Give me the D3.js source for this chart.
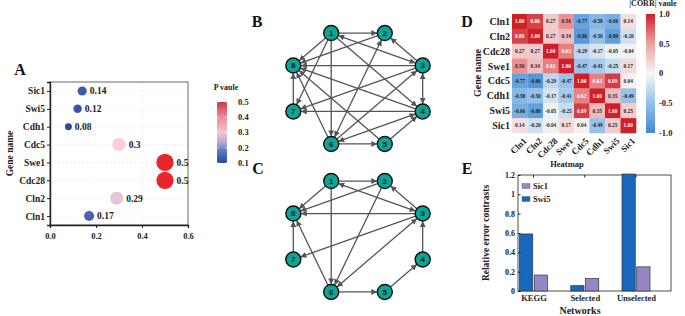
<!DOCTYPE html>
<html>
<head>
<meta charset="utf-8">
<script src="https://cdn.jsdelivr.net/npm/d3@7"></script>
<style>
  body { margin: 0; background: #fff; }
  svg text { font-family: "Liberation Serif", "Times New Roman", serif; font-weight: bold; fill: #222; }
  .node text { font-family: "Liberation Sans", Arial, sans-serif; }
</style>
</head>
<body>
<svg id="fig" width="685" height="316"></svg>
<script>
// ---- panel A data
const genesA = ["Sic1", "Swi5", "Cdh1", "Cdc5", "Swe1", "Cdc28", "Cln2", "Cln1"];
const pValues = [0.14, 0.12, 0.08, 0.3, 0.5, 0.5, 0.29, 0.17];
const pLabels = ["0.14", "0.12", "0.08", "0.3", "0.5", "0.5", "0.29", "0.17"];
const xTicksA = [0, 0.2, 0.4, 0.6];
const pLegendTicks = [0.1, 0.2, 0.3, 0.4, 0.5];

// ---- networks B and C (edges as [from, to, both directions?])
const nodes = [1, 2, 3, 4, 5, 6, 7, 8];
const edgesB = [[1,2,0],[1,8,0],[1,7,0],[1,6,0],[1,4,0],[3,1,1],[2,8,0],[3,2,0],[6,2,1],
  [3,8,0],[3,4,1],[3,7,0],[6,3,0],[4,8,0],[4,7,0],[6,4,1],[5,8,0],[6,8,0],[7,8,0],[6,5,0],[5,4,0]];
const edgesC = [[1,2,0],[1,8,0],[1,6,0],[3,1,1],[2,8,0],[3,8,0],[3,2,0],[2,6,0],[3,7,0],
  [6,3,1],[7,8,0],[6,8,0],[6,5,0],[5,4,0],[4,3,0]];

// ---- panel D data
const genesD = ["Cln1", "Cln2", "Cdc28", "Swe1", "Cdc5", "Cdh1", "Swi5", "Sic1"];
const corr = [
  [1.00, 0.86, 0.27, 0.56, -0.77, -0.58, -0.66, 0.14],
  [0.86, 1.00, 0.27, 0.34, -0.86, -0.50, -0.80, -0.20],
  [0.27, 0.27, 1.00, 0.63, -0.29, -0.17, -0.05, -0.04],
  [0.56, 0.34, 0.63, 1.00, -0.47, -0.41, -0.25, 0.17],
  [-0.77, -0.86, -0.29, -0.47, 1.00, 0.62, 0.89, 0.04],
  [-0.58, -0.50, -0.17, -0.41, 0.62, 1.00, 0.35, -0.49],
  [-0.66, -0.80, -0.05, -0.25, 0.89, 0.35, 1.00, 0.25],
  [0.14, -0.20, -0.04, 0.17, 0.04, -0.49, 0.25, 1.00]
];
const corrTicks = [1.0, 0.5, 0, -0.5, -1.0];

// ---- panel E data
const networks = ["KEGG", "Selected", "Unselected"];
const seriesE = ["Swi5", "Sic1"];
const swi5Err = [0.59, 0.055, 1.21];
const sic1Err = [0.165, 0.13, 0.25];
const yTicksE = [0, 0.2, 0.4, 0.6, 0.8, 1, 1.2];

const svg = d3.select("#fig");

// panel letters
const letters = [["A", 20, 75], ["B", 257, 27], ["C", 258, 174], ["D", 467, 27], ["E", 467, 174]];
svg.selectAll("text.letter").data(letters).join("text")
  .attr("class", "letter").attr("x", d => d[1]).attr("y", d => d[2])
  .attr("text-anchor", "middle").style("font-size", "16px").style("fill", "#111")
  .text(d => d[0]);

// ================= A
(function () {
  const g = svg.append("g");
  const L = 50, R = 188, T = 82, B = 225;
  const x = d3.scaleLinear().domain([0, 0.6]).range([L, R]);
  const y = d3.scalePoint().domain(genesA).range([T, B]).padding(0.5);
  const color = d3.scaleLinear().domain([0.08, 0.17, 0.25, 0.29, 0.3, 0.4, 0.5])
    .range(["#2a489c", "#4a63b3", "#a9a8d2", "#e4c6d8", "#f8cfd6", "#ec8c98", "#e8262c"]);
  const r = d3.scaleSqrt().domain([0, 0.5]).range([0, 8.6]);

  g.selectAll("line.gy").data(genesA).join("line")
    .attr("x1", L).attr("x2", R).attr("y1", d => y(d)).attr("y2", d => y(d))
    .attr("stroke", "#e4e4e4").attr("stroke-dasharray", "2,2").attr("stroke-width", 0.6);
  g.selectAll("line.gx").data([0.2, 0.4]).join("line")
    .attr("y1", T).attr("y2", B).attr("x1", d => x(d)).attr("x2", d => x(d))
    .attr("stroke", "#e4e4e4").attr("stroke-dasharray", "2,2").attr("stroke-width", 0.6);

  g.append("rect").attr("x", L).attr("y", T).attr("width", R - L).attr("height", B - T)
    .attr("fill", "none").attr("stroke", "#444").attr("stroke-width", 0.8);

  const xa = g.append("g").attr("transform", `translate(0,${B})`)
    .call(d3.axisBottom(x).tickValues(xTicksA).tickFormat(d3.format(".1f")).tickSize(3));
  const ya = g.append("g").attr("transform", `translate(${L},0)`)
    .call(d3.axisLeft(y).tickSize(3));
  [xa, ya].forEach(a => { a.select(".domain").attr("stroke", "#222").attr("stroke-width", 1.4); a.selectAll("line").attr("stroke", "#222"); });
  xa.selectAll("text").style("font-size", "8.5px").style("font-family", "Liberation Serif").attr("dy", "0.9em");
  ya.selectAll("text").style("font-size", "9.5px").style("font-family", "Liberation Serif").attr("x", -5);

  g.append("text").attr("transform", `translate(13,${(T + B) / 2}) rotate(-90)`)
    .attr("text-anchor", "middle").style("font-size", "9.5px").text("Gene name");

  g.selectAll("circle").data(genesA).join("circle")
    .attr("cx", (d, i) => x(pValues[i])).attr("cy", d => y(d))
    .attr("r", (d, i) => r(pValues[i])).attr("fill", (d, i) => color(pValues[i]));
  g.selectAll("text.val").data(genesA).join("text").attr("class", "val")
    .attr("x", (d, i) => x(pValues[i]) + r(pValues[i]) + 3).attr("y", d => y(d)).attr("dy", "0.35em")
    .style("font-size", "9.5px").text((d, i) => pLabels[i]);

  // P legend
  const lg = d3.scaleLinear().domain([0.1, 0.5]).range([163, 102]);
  const defs = svg.append("defs");
  const grad = defs.append("linearGradient").attr("id", "pgrad").attr("x1", 0).attr("x2", 0).attr("y1", 1).attr("y2", 0);
  [[0, "#2a489c"], [0.2, "#5d7bc2"], [0.35, "#b8aed6"], [0.5, "#f6c3cf"], [0.75, "#eb8d9b"], [1, "#cb3a44"]]
    .forEach(s => grad.append("stop").attr("offset", s[0]).attr("stop-color", s[1]));
  g.append("rect").attr("x", 217).attr("y", lg(0.5)).attr("width", 10).attr("height", lg(0.1) - lg(0.5))
    .attr("fill", "url(#pgrad)");
  g.selectAll("line.pt").data(pLegendTicks).join("line").attr("class", "pt")
    .attr("x1", 217).attr("x2", 219).attr("y1", d => lg(d)).attr("y2", d => lg(d)).attr("stroke", "#fff").attr("stroke-width", 0.6);
  g.selectAll("line.pt2").data(pLegendTicks).join("line").attr("class", "pt2")
    .attr("x1", 225).attr("x2", 227).attr("y1", d => lg(d)).attr("y2", d => lg(d)).attr("stroke", "#fff").attr("stroke-width", 0.6);
  g.selectAll("text.pl").data(pLegendTicks).join("text").attr("class", "pl")
    .attr("x", 238).attr("y", d => lg(d)).attr("dy", "0.35em").style("font-size", "8.5px").text(d => d.toFixed(1));
  g.append("text").attr("x", 226).attr("y", 90).attr("text-anchor", "middle").style("font-size", "8px").text("P vaule");
})();

// ================= B, C networks
const defs2 = svg.append("defs");
defs2.append("marker").attr("id", "arr").attr("viewBox", "0 0 10 10").attr("refX", 10).attr("refY", 5)
  .attr("markerWidth", 6).attr("markerHeight", 6).attr("orient", "auto-start-reverse").attr("markerUnits", "userSpaceOnUse")
  .append("path").attr("d", "M0,0L10,5L0,10Z").attr("fill", "#555");

function drawNet(edges, cy) {
  const g = svg.append("g");
  const ang = d3.scaleLinear().domain([1, 8]).range([-112.5, 202.5]);
  const sx = d3.scaleLinear().domain([-1, 1]).range([358 - 70, 358 + 70]);
  const sy = d3.scaleLinear().domain([-1, 1]).range([cy - 60, cy + 60]);
  const pos = new Map(nodes.map(n => {
    const a = ang(n) * Math.PI / 180;
    return [n, [sx(Math.cos(a)), sy(Math.sin(a))]];
  }));
  const rad = 7.5;
  g.selectAll("line").data(edges).join("line")
    .each(function (e) {
      const p = pos.get(e[0]), q = pos.get(e[1]);
      const dx = q[0] - p[0], dy = q[1] - p[1], len = Math.hypot(dx, dy);
      const ux = dx / len, uy = dy / len;
      d3.select(this).attr("x1", p[0] + ux * rad).attr("y1", p[1] + uy * rad)
        .attr("x2", q[0] - ux * rad).attr("y2", q[1] - uy * rad);
    })
    .attr("stroke", "#555").attr("stroke-width", 1.3)
    .attr("marker-end", "url(#arr)")
    .attr("marker-start", e => e[2] ? "url(#arr)" : null);
  const ng = g.selectAll("g.node").data(nodes).join("g").attr("class", "node")
    .attr("transform", n => `translate(${pos.get(n)[0]},${pos.get(n)[1]})`);
  ng.append("circle").attr("r", rad).attr("fill", "#0ba596").attr("stroke", "#111").attr("stroke-width", 1.4);
  ng.append("text").attr("text-anchor", "middle").attr("dy", "0.36em").style("font-size", "8px").style("fill", "#111")
    .style("font-family", "Liberation Sans").text(n => n);
}
drawNet(edgesB, 88.5);
drawNet(edgesC, 236.5);

// ================= D heatmap
(function () {
  const g = svg.append("g");
  const x = d3.scaleBand().domain(genesD).range([512, 636]);
  const y = d3.scaleBand().domain(genesD).range([14, 133]);
  const color = d3.scaleLinear().domain([-1, -0.5, 0, 0.5, 1])
    .range(["#3f8ad2", "#95c0e7", "#f7f7f7", "#eca1a4", "#d01f27"]);
  const cells = [];
  corr.forEach((row, i) => row.forEach((v, j) => cells.push({ r: genesD[i], c: genesD[j], v })));
  g.selectAll("rect").data(cells).join("rect")
    .attr("x", d => x(d.c)).attr("y", d => y(d.r)).attr("width", x.bandwidth() + 0.3).attr("height", y.bandwidth() + 0.3)
    .attr("fill", d => color(d.v));
  g.selectAll("text.cv").data(cells).join("text").attr("class", "cv")
    .attr("x", d => x(d.c) + x.bandwidth() / 2).attr("y", d => y(d.r) + y.bandwidth() / 2).attr("dy", "0.35em")
    .attr("text-anchor", "middle").style("font-size", "5.3px")
    .style("fill", d => d.v > 0.6 ? "#fff" : "#222").text(d => d.v.toFixed(2));
  g.selectAll("text.rl").data(genesD).join("text").attr("class", "rl")
    .attr("x", 510).attr("y", d => y(d) + y.bandwidth() / 2).attr("dy", "0.35em").attr("text-anchor", "end")
    .style("font-size", "10px").text(d => d);
  g.selectAll("text.cl").data(genesD).join("text").attr("class", "cl")
    .attr("transform", d => `translate(${x(d) + x.bandwidth() / 2 + 3},${137}) rotate(-45)`)
    .attr("text-anchor", "end").attr("dy", "0.7em").style("font-size", "9px").text(d => d);
  g.append("text").attr("x", 567).attr("y", 167).attr("text-anchor", "middle").style("font-size", "8.5px").text("Heatmap");
  g.append("text").attr("transform", "translate(481,73) rotate(-90)").attr("text-anchor", "middle")
    .style("font-size", "10px").text("Gene name");

  const cs = d3.scaleLinear().domain([-1, 1]).range([133, 14]);
  const grad = svg.select("defs").append("linearGradient").attr("id", "cgrad").attr("x1", 0).attr("x2", 0).attr("y1", 1).attr("y2", 0);
  [-1, -0.5, 0, 0.5, 1].forEach(v => grad.append("stop").attr("offset", (v + 1) / 2).attr("stop-color", color(v)));
  g.append("rect").attr("x", 646).attr("y", cs(1)).attr("width", 9).attr("height", cs(-1) - cs(1)).attr("fill", "url(#cgrad)");
  g.selectAll("text.ct").data(corrTicks).join("text").attr("class", "ct")
    .attr("x", 659).attr("y", d => cs(d)).attr("dy", "0.35em").style("font-size", "8.5px")
    .text(d => d === 0 ? "0" : (Number.isInteger(d) ? d.toFixed(1) : String(d)));
  g.append("text").attr("x", 653).attr("y", 6).attr("text-anchor", "middle").style("font-size", "8px").text("|CORR| vaule");
})();

// ================= E bars
(function () {
  const g = svg.append("g");
  const L = 518, R = 671, T = 175, B = 291;
  const x = d3.scalePoint().domain(networks).range([L + 15.5, R - 35]);
  const xs = d3.scaleBand().domain(seriesE).range([-14, 14]).paddingInner(0.1);
  const y = d3.scaleLinear().domain([0, 1.2]).range([B, T]);
  const col = { Swi5: "#1767bd", Sic1: "#9686c6" };
  const vals = { Swi5: swi5Err, Sic1: sic1Err };

  g.append("rect").attr("x", L).attr("y", T).attr("width", R - L).attr("height", B - T)
    .attr("fill", "none").attr("stroke", "#222").attr("stroke-width", 0.8);
  const bars = [];
  seriesE.forEach(s => networks.forEach((n, i) => bars.push({ s, n, v: vals[s][i] })));
  g.selectAll("rect.bar").data(bars).join("rect").attr("class", "bar")
    .attr("x", d => x(d.n) + xs(d.s)).attr("width", xs.bandwidth())
    .attr("y", d => y(d.v)).attr("height", d => B - y(d.v))
    .attr("fill", d => col[d.s]).attr("stroke", "#333").attr("stroke-width", 0.7);

  const ya = g.append("g").attr("transform", `translate(${L},0)`)
    .call(d3.axisLeft(y).tickValues(yTicksE).tickFormat(d => String(d)).tickSize(-2.5));
  ya.select(".domain").remove();
  ya.selectAll("line").attr("stroke", "#222");
  ya.selectAll("text").style("font-size", "8px").style("font-family", "Liberation Serif").attr("x", -3);
  const xa = g.append("g").attr("transform", `translate(0,${B})`)
    .call(d3.axisBottom(x).tickSize(0));
  xa.select(".domain").remove();
  xa.selectAll("text").style("font-size", "8.5px").style("font-family", "Liberation Serif").attr("dy", "0.8em");
  // top ticks
  g.selectAll("line.tt").data(networks).join("line").attr("class", "tt")
    .attr("x1", d => x(d)).attr("x2", d => x(d)).attr("y1", T).attr("y2", T + 2.5).attr("stroke", "#222");

  g.append("text").attr("transform", `translate(489,${(T + B) / 2}) rotate(-90)`).attr("text-anchor", "middle")
    .style("font-size", "9.5px").text("Relative error contrasts");
  g.append("text").attr("x", 580).attr("y", 314).attr("text-anchor", "middle").style("font-size", "10px").text("Networks");

  const leg = ["Sic1", "Swi5"];
  const ly = d3.scalePoint().domain(leg).range([186, 199]);
  g.selectAll("rect.lg").data(leg).join("rect").attr("class", "lg")
    .attr("x", 522).attr("y", d => ly(d) - 2.5).attr("width", 8).attr("height", 5)
    .attr("fill", d => col[d]).attr("stroke", "#555").attr("stroke-width", 0.4);
  g.selectAll("text.lg").data(leg).join("text").attr("class", "lg")
    .attr("x", 533).attr("y", d => ly(d)).attr("dy", "0.35em").style("font-size", "8.5px").text(d => d);
})();
</script>
</body>
</html>
